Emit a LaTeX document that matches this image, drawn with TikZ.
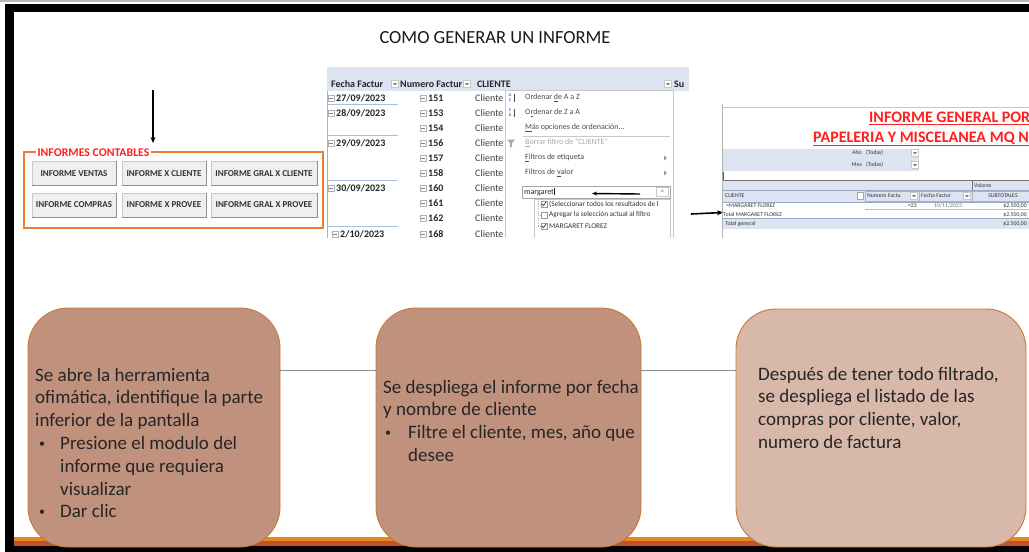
\documentclass[tikz,border=0pt]{standalone}
\usepackage{fontspec}
\setmainfont{Carlito}
\usetikzlibrary{arrows.meta}
\definecolor{boxfill}{HTML}{C0917D}
\definecolor{boxfillb}{HTML}{D8B8A9}
\definecolor{boxline}{HTML}{C27A34}
\definecolor{txtdark}{HTML}{262626}
\definecolor{bandor}{HTML}{E8871E}
\definecolor{bandred}{HTML}{C0522A}
\definecolor{grpor}{HTML}{ED7D31}
\definecolor{grpred}{HTML}{FF1F1F}
\definecolor{btnfill}{HTML}{EFEFEF}
\definecolor{btnline}{HTML}{C9C9C9}
\definecolor{btnshadow}{HTML}{8F8F8F}
\definecolor{lblue}{HTML}{DCE3F1}
\definecolor{sepblue}{HTML}{A9BDE3}
\definecolor{menuline}{HTML}{C8C8C8}
\definecolor{menutxt}{HTML}{4A4A4A}
\definecolor{menugray}{HTML}{A8A8A8}
\definecolor{cellline}{HTML}{9BA9C4}
\definecolor{xlgreen}{HTML}{217346}
\definecolor{linegray}{HTML}{8C8C8C}
\definecolor{iconblue}{HTML}{3A6FC4}
\definecolor{iconpurple}{HTML}{8A4FB0}
\newcommand\ddbtn[2]{%
  \draw[menuline,fill=white,line width=0.4pt] (#1-3.5,#2-3.5) rectangle (#1+3.5,#2+3.5);
  \fill[gray] (#1-2,#2-0.8) -- (#1+2,#2-0.8) -- (#1,#2+1.4) -- cycle;}
\newcommand\minbox[2]{%
  \draw[gray!60,line width=0.4pt,fill=white] (#1-3,#2-3) rectangle (#1+3,#2+3);
  \draw[gray,line width=0.5pt] (#1-1.8,#2) -- (#1+1.8,#2);}
\newcommand\ckbox[2]{%
  \draw[gray!80,line width=0.4pt,fill=white] (#1-3,#2-3) rectangle (#1+3,#2+3);}
\newcommand\ckmark[2]{%
  \draw[black!80,line width=0.7pt] (#1-2,#2) -- (#1-0.6,#2+1.6) -- (#1+2.2,#2-2);}
\newcommand\smbul{\raisebox{2pt}{\fontsize{12}{12}\selectfont\textbullet}}
\begin{document}
\begin{tikzpicture}[x=1pt,y=-1pt,
  bx/.style={rectangle,rounded corners=40pt,draw=boxline,line width=0.9pt,fill=boxfill,inner sep=0pt},
  boxtxt/.style={anchor=north west,align=left,inner sep=0pt,text=txtdark,font=\fontsize{19}{22.8}\selectfont},
  btn/.style={rectangle,draw=btnline,fill=btnfill,inner sep=0pt,text=black!80,font=\bfseries\fontsize{9}{10}\selectfont},
  tb/.style={anchor=west,inner sep=0pt,font=\bfseries\fontsize{10}{11}\selectfont,text=black!85},
  tr/.style={anchor=west,inner sep=0pt,font=\fontsize{10}{11}\selectfont,text=black!75},
  mt/.style={anchor=west,inner sep=0pt,font=\fontsize{8}{9}\selectfont,text=menutxt},
  lt/.style={anchor=west,inner sep=0pt,font=\fontsize{7.3}{8}\selectfont,text=black!80},
  rt/.style={anchor=west,inner sep=0pt,font=\fontsize{5.8}{6.5}\selectfont,text=black!80},
  rtitle/.style={anchor=west,inner sep=0pt,font=\bfseries\fontsize{16}{18}\selectfont,text=grpred},
  arr/.style={-{Stealth[length=6pt,width=5pt]},line width=1.6pt,black},
  link/.style={draw=linegray,line width=0.8pt}]
\useasboundingbox (0,0) rectangle (1029,552);
\fill[white] (0,0) rectangle (1029,552);
% frame
\fill[gray!55] (0,0) rectangle (1029,1.5);
\fill[black] (5,4) rectangle (1029,12);
\fill[black] (5,4) rectangle (14,552);
\fill[bandor] (14,536.5) rectangle (1029,541);
\fill[bandred] (14,541) rectangle (1029,546);
\fill[black] (5,546) rectangle (1029,552);
% title
\node[inner sep=0pt,font=\fontsize{18.5}{20}\selectfont,text=black!90] (title) at (495,38) {COMO GENERAR UN INFORME};

% ---------- left screenshot ----------
\coordinate (a1s) at (153,90);
\coordinate (a1e) at (153,143);
\draw[arr] (a1s) -- (a1e);
\node[rectangle,draw=grpor,line width=2pt,minimum width=299pt,minimum height=76pt,inner sep=0pt] (grp) at (173.5,190) {};
\node[fill=white,inner sep=1.5pt,text=grpred,font=\bfseries\fontsize{11.8}{13}\selectfont] (grplbl) at (93.5,153) {INFORMES CONTABLES};
\foreach \n/\cx/\cy/\w/\t in {b1/74/173.5/84/INFORME VENTAS, b2/164/173.5/84/INFORME X CLIENTE, b3/264/173.5/106/INFORME GRAL X CLIENTE,
  b4/74/205/84/INFORME COMPRAS, b5/164/205/84/INFORME X PROVEE, b6/264/205/106/INFORME GRAL X PROVEE}{
  \node[btn,minimum width=\w pt,minimum height=24pt] (\n) at (\cx,\cy) {\t};
  \draw[btnshadow,line width=1pt] (\n.north east) -- (\n.south east) -- (\n.south west);
}

% ---------- middle screenshot (pivot table) ----------
\begin{scope}
\clip (327,66) rectangle (689,237.5);
\fill[lblue] (327,67) rectangle (689,91);
\draw[gray!60,line width=0.5pt] (327.5,91) -- (327.5,238);
\node[tb] (h1) at (331,84) {Fecha Factur};
\ddbtn{395}{84}
\node[tb] (h2) at (400,84) {Numero Factur};
\ddbtn{467}{84}
\node[tb] (h3) at (477,84) {CLIENTE};
\ddbtn{668}{84}
\node[tb] (h4) at (674,84) {Su};
% dates
\foreach \k/\y/\d/\xx in {1/98/27\slash 09\slash 2023/331, 2/113/28\slash 09\slash 2023/331, 3/143/29\slash 09\slash 2023/331, 4/188/30\slash 09\slash 2023/331, 5/234/2\slash 10\slash 2023/335}{
  \minbox{\xx}{\y}
  \node[tb] (d\k) at (\xx+5,\y) {\d};
}
\foreach \y in {104,135,180.5,226}{\draw[sepblue,line width=0.8pt] (328,\y) -- (398,\y);}
% numbers and clients
\foreach \y/\n in {98/151,113/153,128/154,143/156,158/157,173/158,188/160,203/161,218/162,234/168}{
  \minbox{423}{\y}
  \node[tb] (n\n) at (428,\y) {\n};
  \node[tr] (c\n) at (475,\y) {Cliente};
}
% dropdown menu
\draw[menuline,fill=white,line width=0.6pt] (505,90) rectangle (673,245);
\node[mt] (m1) at (525,98) {Ordenar \underline{d}e A a Z};
\node[mt] (m2) at (525,113) {O\underline{r}denar de Z a A};
\node[mt] (m3) at (525,128) {\underline{M}ás opciones de ordenación...};
\draw[menuline,line width=0.5pt] (523,136) -- (670,136);
\node[mt,text=menugray] (m4) at (525,143) {\underline{B}orrar filtro de "CLIENTE"};
\node[mt] (m5) at (525,158) {\underline{F}iltros de etiqueta};
\node[mt] (m6) at (525,173) {Filtros de \underline{v}alor};
\fill[gray!80] (664,155.5) -- (667,158) -- (664,160.5) -- cycle;
\fill[gray!80] (664,170.5) -- (667,173) -- (664,175.5) -- cycle;
% sort icons
\node[inner sep=0pt,font=\bfseries\fontsize{4.5}{5}\selectfont,text=iconblue] (ia1) at (510,95) {A};
\node[inner sep=0pt,font=\bfseries\fontsize{4.5}{5}\selectfont,text=iconpurple] (iz1) at (510,100.5) {Z};
\draw[black!70,line width=0.5pt,-{Stealth[length=1.5pt,width=1.5pt]}] (514.5,93.5) -- (514.5,102);
\node[inner sep=0pt,font=\bfseries\fontsize{4.5}{5}\selectfont,text=iconpurple] (iz2) at (510,110) {Z};
\node[inner sep=0pt,font=\bfseries\fontsize{4.5}{5}\selectfont,text=iconblue] (ia2) at (510,115.5) {A};
\draw[black!70,line width=0.5pt,-{Stealth[length=1.5pt,width=1.5pt]}] (514.5,108.5) -- (514.5,117);
% funnel icon
\fill[menugray] (507,139.5) -- (515,139.5) -- (512,143) -- (512,147) -- (510,147) -- (510,143) -- cycle;
% search box
\draw[gray!70,fill=white,line width=0.5pt] (522,186) rectangle (670,198);
\node[mt,text=black!85] (srch) at (524,192) {margaret\rule[-1pt]{0.4pt}{7pt}};
\draw[menuline,line width=0.4pt] (656,187.5) rectangle (668.5,196.5);
\node[inner sep=0pt,font=\fontsize{7}{8}\selectfont,text=gray] (clr) at (662.3,192) {×};
\coordinate (a2s) at (640,194);
\coordinate (a2e) at (592,193.5);
\draw[-{Stealth[length=5pt,width=4pt]},line width=1.4pt] (a2s) -- (a2e);
% list
\draw[menuline,line width=0.5pt] (534,199.5) rectangle (670,245);
\draw[gray!60,line width=0.4pt,dotted] (538,201) -- (538,226) (538,204) -- (542,204) (538,215) -- (542,215) (538,226) -- (542,226);
\ckbox{544}{204}\ckmark{544}{204}
\node[lt] (l1) at (549,204) {(Seleccionar todos los resultados de l};
\ckbox{544}{215}
\node[lt] (l2) at (549,215) {Agregar la selección actual al filtro};
\ckbox{544}{226}\ckmark{544}{226}
\node[lt] (l3) at (549,226) {MARGARET FLOREZ};
\end{scope}

% ---------- right screenshot ----------
\coordinate (a3s) at (691,214);
\coordinate (a3e) at (723,212.5);
\draw[arr] (a3s) -- (a3e);
\begin{scope}
\clip (721,104) rectangle (1029,238);
\draw[gray!45,line width=0.8pt] (722,107) -- (1029,107);
\node[rtitle] (rt1) at (869,118) {\underline{INFORME GENERAL POR}};
\node[rtitle] (rt2) at (813,139) {\underline{PAPELERIA Y MISCELANEA MQ N}};
\fill[lblue] (722,148.5) rectangle (919,171);
\node[rt,anchor=east] (fa) at (862,153) {Año};
\node[rt] (fa2) at (866,153) {(Todas)};
\ddbtn{915}{153}
\node[rt,anchor=east] (fm) at (862,165) {Mes};
\node[rt] (fm2) at (866,165) {(Todas)};
\ddbtn{915}{165}
\draw[xlgreen,line width=1.2pt] (723.2,171.5) -- (723.2,179.5);
\fill[lblue] (722,180) rectangle (1029,202);
\draw[black!55,line width=0.6pt] (722,180) -- (1029,180);
\draw[cellline,line width=0.5pt] (722,190) -- (1029,190);
\draw[black!55,line width=0.6pt] (972,180) -- (972,190);
\node[rt] (val) at (974,185.5) {Valores};
\node[rt] (hc) at (725,196) {CLIENTE};
\draw[gray!70,fill=white,line width=0.4pt] (857,192.5) rectangle (863,199.5);
\draw[gray!60,line width=0.4pt] (865,191) rectangle (919,201) (919,191) rectangle (972,201) (972,191) rectangle (1029,201);
\node[rt] (hn) at (867,196) {Numero Factu};
\ddbtn{914}{196}
\node[rt] (hf) at (921,196) {Fecha Factur};
\ddbtn{967}{196}
\node[rt,anchor=center] (hs) at (1003,196) {SUBTOTALES};
\draw[cellline,line width=0.5pt] (722,202) -- (1029,202);
\node[rt] (r1) at (726,205.5) {=MARGARET FLOREZ};
\node[rt,anchor=east] (r1n) at (917,205.5) {=23};
\node[rt,anchor=center,text=black!55] (r1f) at (948,205.5) {10/11/2023};
\node[rt,anchor=east] (r1v) at (1027,205.5) {\$2.500,00};
\draw[sepblue,line width=0.5pt] (865,209.5) -- (1029,209.5);
\node[rt] (r2) at (723,214.5) {Total MARGARET FLOREZ};
\node[rt,anchor=east] (r2v) at (1027,214.5) {\$2.500,00};
\fill[lblue] (722,218.5) rectangle (1029,228.5);
\draw[cellline,line width=0.5pt] (722,218.5) -- (1029,218.5);
\node[rt] (r3) at (725,223.5) {Total general};
\node[rt,anchor=east] (r3v) at (1027,223.5) {\$2.500,00};
\draw[gray!60,line width=0.8pt] (722.4,104) -- (722.4,238);
\end{scope}

% ---------- bottom process boxes ----------
\node[bx,minimum width=252pt,minimum height=239pt] (p1) at (154,427.5) {};
\node[bx,minimum width=265pt,minimum height=239pt] (p2) at (508.5,427.5) {};
\node[bx,fill=boxfillb,minimum width=290pt,minimum height=238pt] (p3) at (881,428) {};
\draw[link] ([yshift=57.5pt]p1.east) -- ([yshift=57.5pt]p2.west);
\draw[link] ([yshift=57.5pt]p2.east) -- ([yshift=58pt]p3.west);
\node[boxtxt] (t1) at (35,365) {\strut Se abre la herramienta\\
ofimática, identifique la parte\\
inferior de la pantalla\\
\hspace*{4pt}\makebox[21pt][l]{\smbul}Presione el modulo del\\
\hspace*{25pt}informe que requiera\\
\hspace*{25pt}visualizar\\
\hspace*{4pt}\makebox[21pt][l]{\smbul}Dar clic};
\node[boxtxt] (t2) at (383,377) {\strut Se despliega el informe por fecha\\
y nombre de cliente\\
\hspace*{2pt}\makebox[23pt][l]{\smbul}Filtre el cliente, mes, año que\\
\hspace*{25pt}desee};
\node[boxtxt] (t3) at (758,364) {\strut Después de tener todo filtrado,\\
se despliega el listado de las\\
compras por cliente, valor,\\
numero de factura};
\end{tikzpicture}
\end{document}
